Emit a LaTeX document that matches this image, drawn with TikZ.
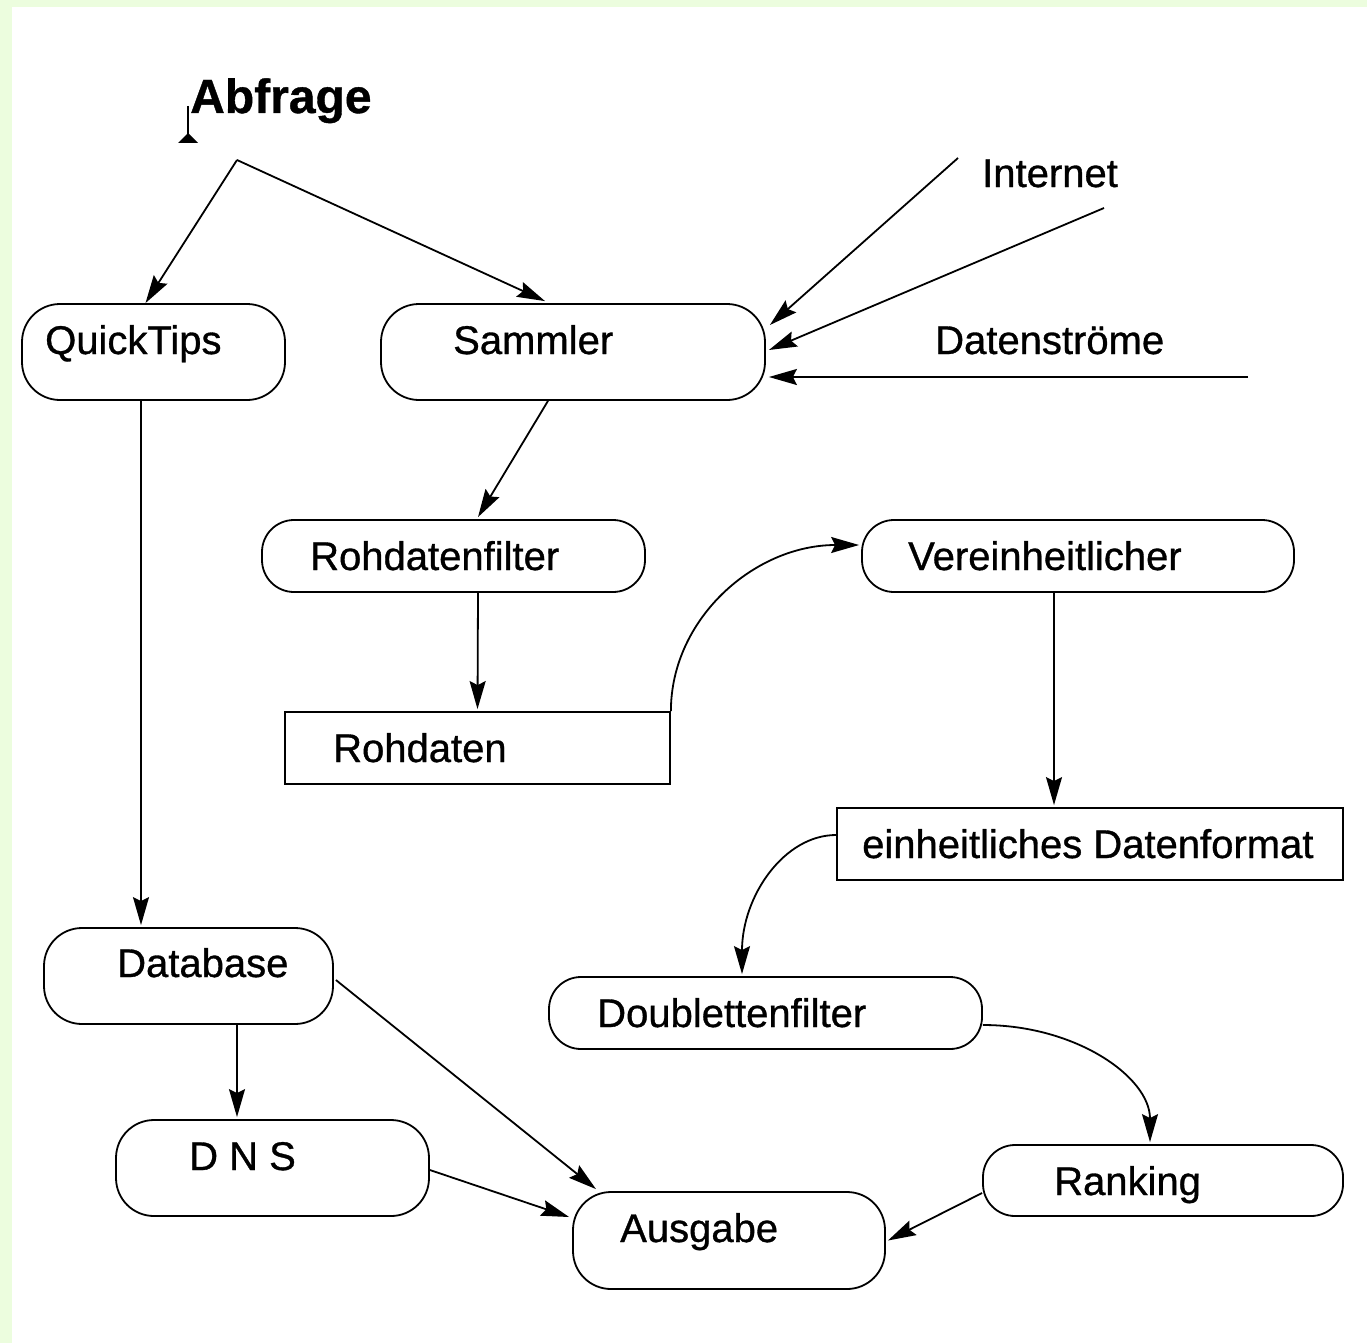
\documentclass[tikz,border=0pt]{standalone}
\usepackage{fontspec}
\setmainfont{Liberation Sans}[FakeBold=0.8]
\newfontfamily\nodefont{Liberation Sans}[FakeBold=0.8]
\usetikzlibrary{arrows.meta}
\definecolor{bordergreen}{RGB}{236,253,222}
\begin{document}
\begin{tikzpicture}[x=1pt,y=-1pt,
  stad/.style={draw,line width=1.8pt,rounded corners=#1,inner sep=0pt},
  boxr/.style={draw,line width=1.8pt,inner sep=0pt},
  lbl/.style={anchor=base west,inner sep=0pt,font=\nodefont\fontsize{40}{48}\selectfont},
  conn/.style={line width=1.8pt,-{Stealth[length=28pt,width=16pt,inset=4pt]}}]
\useasboundingbox (0,0) rectangle (1367,1343);
\fill[bordergreen] (0,0) rectangle (1367,1343);
\fill[white] (12,7) rectangle (1367,1343);

% shapes
\node[stad=38pt,minimum width=263pt,minimum height=96pt] (qt) at (153.5,352) {};
\node[stad=38pt,minimum width=384pt,minimum height=96pt] (sam) at (573,352) {};
\node[stad=32pt,minimum width=383pt,minimum height=72pt] (rf) at (453.5,556) {};
\node[boxr,minimum width=385pt,minimum height=72pt] (rd) at (477.5,748) {};
\node[stad=32pt,minimum width=432pt,minimum height=72pt] (ver) at (1078,556) {};
\node[boxr,minimum width=506pt,minimum height=72pt] (edf) at (1090,844) {};
\node[stad=32pt,minimum width=433pt,minimum height=72pt] (df) at (765.5,1013) {};
\node[stad=32pt,minimum width=360pt,minimum height=71pt] (rk) at (1163,1180.5) {};
\node[stad=38pt,minimum width=289pt,minimum height=96pt] (db) at (188.5,976) {};
\node[stad=38pt,minimum width=313pt,minimum height=96pt] (dns) at (272.5,1168) {};
\node[stad=38pt,minimum width=312pt,minimum height=97pt] (ag) at (729,1240.5) {};

% texts
\node[lbl,font=\bfseries\fontsize{48}{56}\selectfont] (abf) at (190,113) {Abfrage};
\node[lbl] (qtT) at (45,354) {QuickTips};
\node[lbl] (samT) at (453,354) {Sammler};
\node[lbl] (intT) at (982,187) {Internet};
\node[lbl] (dsT) at (935,354) {Datenströme};
\node[lbl] (rfT) at (310,570) {Rohdatenfilter};
\node[lbl] (rdT) at (333,762) {Rohdaten};
\node[lbl] (verT) at (908,570) {Vereinheitlicher};
\node[lbl] (edfT) at (862,858) {einheitliches Datenformat};
\node[lbl] (dfT) at (597,1027) {Doublettenfilter};
\node[lbl] (rkT) at (1054,1195) {Ranking};
\node[lbl] (dbT) at (117,977) {Database};
\node[lbl] (dnsT) at (189,1170) {D N S};
\node[lbl] (agT) at (620,1242) {Ausgabe};

% small mark under Abfrage
\draw[line width=1.8pt] (188,106) -- (188,140);
\fill (178,143) -- (198,143) -- (188,133) -- cycle;

% free ends
\coordinate (split) at (237,160);
\coordinate (in1) at (958,158);
\coordinate (in2) at (1104,208);
\coordinate (in3) at (1248,377);

% connectors
\draw[conn] (split) -- ([xshift=-8pt]qt.north);
\draw[conn] (split) -- ([xshift=-28pt,yshift=2pt]sam.north);
\draw[conn] (in1) -- ([xshift=4pt,yshift=27pt]sam.east);
\draw[conn] (in2) -- ([xshift=3pt,yshift=2pt]sam.east);
\draw[conn] (in3) -- ([xshift=3pt,yshift=-25pt]sam.east);
\draw[conn] ([xshift=-25pt]sam.south) -- ([xshift=24.5pt,yshift=2pt]rf.north);
\draw[conn] ([xshift=24.5pt]rf.south) -- ([yshift=2pt]rd.north);
\draw[conn] (rd.north east) .. controls +(0,-92) and +(-105,0) .. ([xshift=-2pt,yshift=11pt]ver.west);
\draw[conn] ([xshift=-24pt]ver.south) -- ([xshift=-36pt,yshift=2pt]edf.north);
\draw[conn] ([yshift=9pt]edf.west) .. controls +(-52,0) and +(0,-78) .. ([xshift=-23.5pt,yshift=2pt]df.north);
\draw[conn] ([yshift=-12pt]df.east) .. controls +(93,0) and +(0,-65) .. ([xshift=-13pt,yshift=2pt]rk.north);
\draw[conn] ([xshift=-12.5pt]qt.south) -- ([xshift=-47.5pt,yshift=2pt]db.north);
\draw[conn] ([xshift=48.5pt]db.south) -- ([xshift=-35.5pt,yshift=2pt]dns.north);
\draw[conn] ([xshift=2pt,yshift=-4pt]db.east) -- ([xshift=-133pt,yshift=2pt]ag.north);
\draw[conn] ([yshift=-2pt]dns.east) -- ([xshift=-3pt,yshift=23.5pt]ag.west);
\draw[conn] ([yshift=-12.5pt]rk.west) -- ([xshift=2pt]ag.east);
\end{tikzpicture}
\end{document}
